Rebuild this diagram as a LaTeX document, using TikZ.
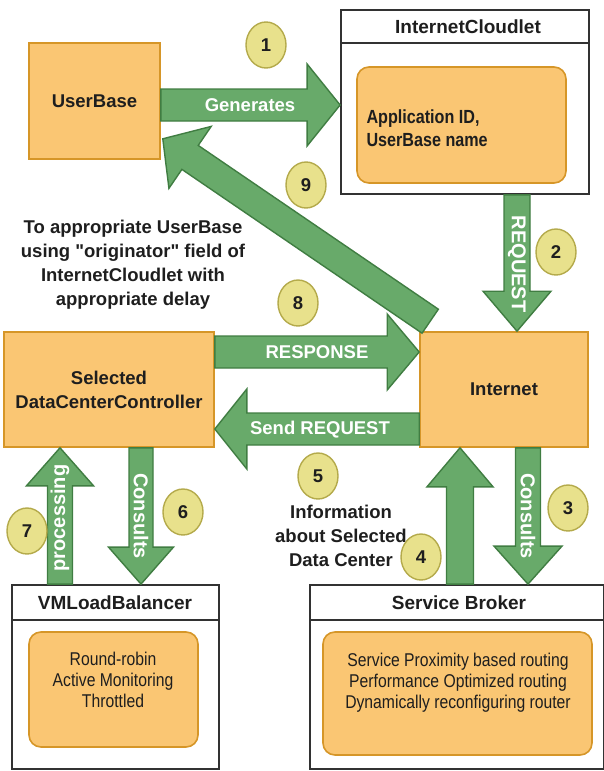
\documentclass[tikz,border=0pt]{standalone}
\usepackage{fontspec}
\setmainfont{Liberation Sans}
\newfontfamily\narrowfont[FakeStretch=0.85]{Liberation Sans}
\usetikzlibrary{calc,shapes.geometric}
\definecolor{ofill}{RGB}{250,198,115}
\definecolor{ostroke}{RGB}{214,150,40}
\definecolor{gfill}{RGB}{104,170,106}
\definecolor{gstroke}{RGB}{64,125,66}
\definecolor{yfill}{RGB}{232,225,140}
\definecolor{ystroke}{RGB}{180,170,75}
\definecolor{txt}{RGB}{30,30,30}
\definecolor{cstroke}{RGB}{50,50,50}
% #1 start, #2 end, #3 body half width, #4 head half width, #5 head length
\newcommand\blockarrow[5]{%
  \path #1 coordinate (ba-s) #2 coordinate (ba-e);
  \path ($(ba-e)!#5!(ba-s)$) coordinate (ba-h);
  \draw[garrow] ($(ba-s)!#3!90:(ba-e)$) -- ($(ba-h)!#3!-90:(ba-s)$)
    -- ($(ba-h)!#4!-90:(ba-s)$) -- (ba-e) -- ($(ba-h)!#4!90:(ba-s)$)
    -- ($(ba-h)!#3!90:(ba-s)$) -- ($(ba-s)!#3!-90:(ba-e)$) -- cycle;
}
\begin{document}
\begin{tikzpicture}[x=1pt,y=-1pt,
  bfont/.style={font=\fontsize{18.5}{24}\selectfont\bfseries},
  obox/.style={draw=ostroke, fill=ofill, line width=1.6pt, text=txt, bfont, align=center, inner sep=0pt},
  cont/.style={draw=cstroke, fill=white, line width=1.8pt, inner sep=0pt},
  ibox/.style={draw=ostroke, fill=ofill, line width=1.6pt, rounded corners=12pt, inner sep=0pt},
  head/.style={text=txt, font=\fontsize{19}{24}\selectfont\bfseries},
  itext/.style={text=txt, align=center, font=\narrowfont\fontsize{18.5}{21}\selectfont},
  garrow/.style={draw=gstroke, fill=gfill, line width=1.4pt, line join=miter},
  lbl/.style={text=white, bfont},
  vlbl/.style={text=white, font=\fontsize{20}{24}\selectfont\bfseries},
  num/.style={ellipse, draw=ystroke, fill=yfill, line width=1.4pt, minimum width=40pt, minimum height=46pt, inner sep=0pt, text=txt, bfont},
  free/.style={text=txt, bfont, align=center}
]
\useasboundingbox (0,0) rectangle (604,771);

% containers
\node[cont, minimum width=248pt, minimum height=184pt] (cl) at (465,102) {};
\draw[cstroke, line width=1.8pt] (cl.west |- 0,43) -- (cl.east |- 0,43);
\node[head] (clh) at (468,26.5) {InternetCloudlet};
\node[ibox, minimum width=209pt, minimum height=116pt] (cli) at (461.5,125) {};
\node[anchor=west, text=txt, align=left, font=\narrowfont\fontsize{19}{23}\selectfont\bfseries] (clt) at (363,128.5) {Application ID,\\UserBase name};

\node[cont, minimum width=207pt, minimum height=184pt] (vm) at (115.5,677) {};
\draw[cstroke, line width=1.8pt] (vm.west |- 0,620) -- (vm.east |- 0,620);
\node[head] (vmh) at (115,603) {VMLoadBalancer};
\node[ibox, minimum width=169pt, minimum height=115pt] (vmi) at (113.5,689.5) {};
\node[itext] (vmt) at (113,680) {Round-robin\\Active Monitoring\\Throttled};

\node[cont, minimum width=294pt, minimum height=184pt] (sb) at (457,677) {};
\draw[cstroke, line width=1.8pt] (sb.west |- 0,620) -- (sb.east |- 0,620);
\node[head] (sbh) at (459,603) {Service Broker};
\node[ibox, minimum width=269pt, minimum height=123pt] (sbi) at (457.5,693.5) {};
\node[itext] (sbt) at (458,683) {Service Proximity based routing\\Performance Optimized routing\\Dynamically reconfiguring router};

% orange boxes
\node[obox, minimum width=131pt, minimum height=116pt] (ub) at (94.5,101) {UserBase};
\node[obox, minimum width=168pt, minimum height=115pt] (inet) at (504,389.5) {Internet};
\node[obox, minimum width=210pt, minimum height=115pt] (dcc) at (109,389.5) {Selected\\DataCenterController};

% arrows
\blockarrow{([yshift=-4pt]ub.east)}{([yshift=-4pt]ub.east -| cl.west)}{16pt}{41pt}{33pt}
\node[lbl] (l1) at (250,105) {Generates};

\blockarrow{(cl.south -| 517,0)}{(inet.north -| 517,0)}{13pt}{34pt}{40pt}
\node[vlbl, rotate=-90] (l2) at (517,264) {REQUEST};

\blockarrow{(inet.south -| 528,0)}{(sb.north -| 528,0)}{12.5pt}{34pt}{38pt}
\node[vlbl, rotate=-90] (l3) at (528,516) {Consults};

\blockarrow{(sb.north -| 460,0)}{(inet.south -| 460,0)}{13.5pt}{33pt}{39pt}

\blockarrow{(inet.west |- 0,429)}{(dcc.east |- 0,429)}{16pt}{40pt}{32pt}
\node[lbl] (l5) at (320,430) {Send REQUEST};

\blockarrow{(dcc.south -| 141,0)}{(vm.north -| 141,0)}{12pt}{32.5pt}{37pt}
\node[vlbl, rotate=-90] (l6) at (141,516) {Consults};

\blockarrow{(vm.north -| 60,0)}{(dcc.south -| 60,0)}{12.5pt}{33.5pt}{38pt}
\node[vlbl, rotate=90] (l7) at (60,518) {processing};

\blockarrow{(dcc.east |- 0,352)}{(inet.west |- 0,352)}{16pt}{38pt}{32pt}
\node[lbl] (l8) at (317,352) {RESPONSE};

\coordinate (c9s) at ($(inet.north west)+(11,-10)$);
\blockarrow{(c9s)}{($(ub.south east)+(2,-21)$)}{14.5pt}{37.5pt}{33pt}

% free texts
\node[free] (t8) at (133,265) {To appropriate UserBase\\using \textquotedbl originator\textquotedbl{} field of\\InternetCloudlet with\\appropriate delay};
\node[free] (t5) at (341,536) {Information\\about Selected\\Data Center};

% numbers
\node[num] (n1) at (266,45) {1};
\node[num] (n2) at (556,252) {2};
\node[num] (n3) at (568,508) {3};
\node[num] (n4) at (421,557) {4};
\node[num] (n5) at (318,476) {5};
\node[num] (n6) at (183,512) {6};
\node[num] (n7) at (27,531) {7};
\node[num] (n8) at (298,303) {8};
\node[num] (n9) at (306,185) {9};
\end{tikzpicture}
\end{document}
